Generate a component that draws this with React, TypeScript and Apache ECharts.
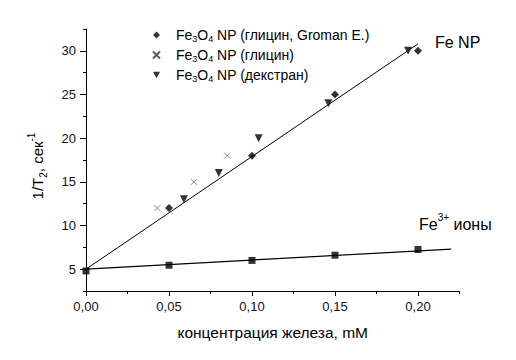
import React, { useEffect, useRef } from "react";
import * as echarts from "echarts";

const xMajorTicks = [0, 0.05, 0.1, 0.15, 0.2];
const yMajorTicks = [5, 10, 15, 20, 25, 30];

const gromanX = [0.05, 0.1, 0.15, 0.2];
const gromanY = [12, 18, 25, 30];

const glycineX = [0.043, 0.065, 0.085];
const glycineY = [12, 15, 18];

const dextranX = [0.059, 0.08, 0.104, 0.146, 0.194];
const dextranY = [13, 16, 20, 24, 30];

const ionsX = [0, 0.05, 0.1, 0.15, 0.2];
const ionsY = [4.8, 5.45, 6.0, 6.6, 7.25];

const npFitX = [0, 0.2];
const npFitY = [5, 30.8];

const ionsFitX = [0, 0.22];
const ionsFitY = [5, 7.3];

const legendNames = [
  "Fe{sub|3}O{sub|4} NP (глицин, Groman E.)",
  "Fe{sub|3}O{sub|4} NP (глицин)",
  "Fe{sub|3}O{sub|4} NP (декстран)",
];

const zip = (xs: number[], ys: number[]) => xs.map((x, i) => [x, ys[i]]);

const FONT = "'Liberation Sans', Arial, sans-serif";

export default function App() {
  const ref = useRef<HTMLDivElement>(null);
  useEffect(() => {
    if (!ref.current) return;
    const chart = echarts.init(ref.current, null, { renderer: "svg" });
    const fmt = (v: number) => v.toFixed(2).replace(".", ",");
    chart.setOption({
      animation: false,
      backgroundColor: "#fff",
      textStyle: { fontFamily: FONT },
      grid: { left: 86, right: 56.5, top: 29, bottom: 69 },
      legend: {
        orient: "vertical",
        left: 147,
        top: 22,
        itemWidth: 7,
        itemHeight: 7,
        itemGap: 4,
        data: legendNames,
        formatter: (n: string) => n,
        textStyle: {
          fontSize: 14,
          color: "#000",
          fontFamily: FONT,
          lineHeight: 16,
          padding: [0, 0, 0, 11],
          rich: {
            sub: { fontSize: 9, lineHeight: 16, verticalAlign: "bottom", fontFamily: FONT, color: "#000" },
          },
        },
      },
      xAxis: [
        {
          type: "value",
          min: 0,
          max: 0.225,
          interval: 0.025,
          position: "bottom",
          splitLine: { show: false },
          axisLine: { lineStyle: { color: "#000", width: 1 } },
          axisTick: { length: 5, customValues: xMajorTicks, lineStyle: { color: "#000" } },
          axisLabel: {
            customValues: xMajorTicks,
            formatter: fmt,
            fontSize: 13,
            color: "#111",
            margin: 9,
            fontFamily: FONT,
          },
          name: "концентрация железа, mM",
          nameLocation: "middle",
          nameGap: 33,
          nameTextStyle: { fontSize: 15.5, color: "#000", fontFamily: FONT },
        },
        {
          type: "value",
          min: 0,
          max: 0.225,
          interval: 0.025,
          position: "bottom",
          splitLine: { show: false },
          axisLine: { show: false },
          axisTick: { length: 3, lineStyle: { color: "#000" } },
          axisLabel: { show: false },
        },
      ],
      yAxis: [
        {
          type: "value",
          min: 2.5,
          max: 32.5,
          interval: 2.5,
          position: "left",
          splitLine: { show: false },
          axisLine: { show: true, lineStyle: { color: "#000", width: 1 } },
          axisTick: { show: true, length: 6, customValues: yMajorTicks, lineStyle: { color: "#000" } },
          axisLabel: {
            customValues: yMajorTicks,
            fontSize: 13,
            color: "#111",
            margin: 10,
            fontFamily: FONT,
          },
        },
        {
          type: "value",
          min: 2.5,
          max: 32.5,
          interval: 2.5,
          position: "left",
          splitLine: { show: false },
          axisLine: { show: false },
          axisTick: { show: true, length: 3, lineStyle: { color: "#000" } },
          axisLabel: { show: false },
        },
      ],
      series: [
        {
          type: "line",
          data: zip(npFitX, npFitY),
          symbol: "none",
          lineStyle: { color: "#000", width: 1 },
          silent: true,
        },
        {
          type: "line",
          data: zip(ionsFitX, ionsFitY),
          symbol: "none",
          lineStyle: { color: "#000", width: 1.2 },
          silent: true,
        },
        {
          name: legendNames[0],
          type: "scatter",
          data: zip(gromanX, gromanY),
          symbol: "diamond",
          symbolSize: 8,
          itemStyle: { color: "#000" },
        },
        {
          name: legendNames[1],
          type: "scatter",
          data: zip(glycineX, glycineY),
          symbol: "path://M0,0L10,10M10,0L0,10",
          symbolSize: 6,
          itemStyle: { color: "#000", borderColor: "#333", borderWidth: 0.7 },
        },
        {
          name: legendNames[2],
          type: "scatter",
          data: zip(dextranX, dextranY),
          symbol: "path://M0,0L10,0L5,9Z",
          symbolSize: 8,
          itemStyle: { color: "#000" },
        },
        {
          type: "scatter",
          data: zip(ionsX, ionsY),
          symbol: "rect",
          symbolSize: 7,
          itemStyle: { color: "#000" },
        },
      ],
      graphic: [
        {
          type: "text",
          x: 37,
          y: 166,
          rotation: Math.PI / 2,
          style: {
            text: "1/T{sub|2}, сек{sup|-1}",
            align: "center",
            verticalAlign: "middle",
            fontSize: 15,
            fontFamily: FONT,
            fill: "#000",
            lineHeight: 22,
            rich: {
              sub: { fontSize: 10, lineHeight: 22, verticalAlign: "bottom", fontFamily: FONT, fill: "#000" },
              sup: { fontSize: 10, lineHeight: 22, verticalAlign: "top", fontFamily: FONT, fill: "#000" },
            },
          },
        },
        {
          type: "text",
          x: 435,
          y: 42,
          style: {
            text: "Fe NP",
            verticalAlign: "middle",
            fontSize: 16,
            fontFamily: FONT,
            fill: "#000",
          },
        },
        {
          type: "text",
          x: 419,
          y: 224,
          style: {
            text: "Fe{sup|3+} ионы",
            verticalAlign: "middle",
            fontSize: 16,
            fontFamily: FONT,
            fill: "#000",
            lineHeight: 24,
            rich: {
              sup: { fontSize: 10, lineHeight: 24, verticalAlign: "top", fontFamily: FONT, fill: "#000" },
            },
          },
        },
      ],
    });
    return () => chart.dispose();
  }, []);
  return <div ref={ref} style={{ width: 516, height: 360, margin: -8 }} />;
}
